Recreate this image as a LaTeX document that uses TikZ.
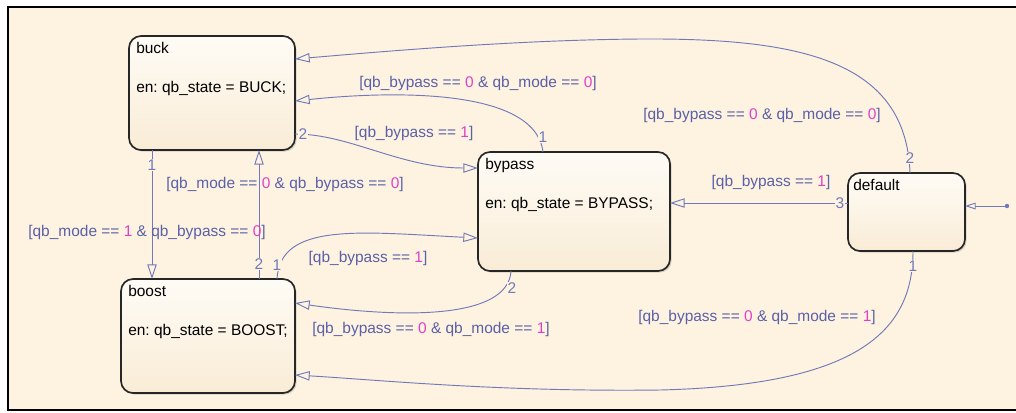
\documentclass[tikz,border=0pt]{standalone}
\usepackage{fontspec}
\setmainfont{Liberation Sans}
\usetikzlibrary{arrows.meta,calc,shadows}
\definecolor{chartbg}{HTML}{FDF3E0}
\definecolor{transcol}{HTML}{7179BA}
\definecolor{guardcol}{HTML}{5B60A8}
\definecolor{numcol}{HTML}{E040C8}
\newcommand{\gv}[1]{\textcolor{numcol}{#1}}
\frenchspacing

\begin{document}
\begin{tikzpicture}[x=0.75pt, y=-0.75pt, font=\fontsize{11.6}{13}\selectfont,
  state/.style={draw=black!85, line width=1.25pt, rounded corners=9pt, inner sep=0pt, outer sep=0pt,
    top color=white!70!chartbg, bottom color=chartbg!80!brown!30!chartbg,
    drop shadow={shadow xshift=1.2pt, shadow yshift=-1.2pt, opacity=0.3}},
  statetext/.style={anchor=base west, inner sep=0pt},
  transition/.style={draw=transcol, line width=0.7pt, -{Triangle[open, length=11pt, width=7pt]}},
  guard/.style={text=guardcol, inner sep=1pt},
  order/.style={text=transcol, fill=chartbg, inner sep=0.4pt}]
  \useasboundingbox[fill=white] (0,0) rectangle (1016,412);
  \fill[chartbg] (8,7) rectangle (1016,410);
  \draw[line width=1.4pt] (1016,7) -- (8,7) -- (8,410) -- (1016,410);

  % states
  \node[state, minimum width=124.5pt, minimum height=85.5pt] (buck) at (212,93) {};
  \node[state, minimum width=130.5pt, minimum height=85.5pt] (boost) at (208,336) {};
  \node[state, minimum width=144pt, minimum height=89.25pt] (bypass) at (574,211.5) {};
  \node[state, minimum width=87.75pt, minimum height=58.5pt] (default) at (906.5,212) {};
  \foreach \s/\e in {buck/BUCK, boost/BOOST, bypass/BYPASS} {
    \node[statetext] (\s name) at ($(\s.north west)+(7,17)$) {\s};
    \node[statetext] (\s entry) at ($(\s.north west)+(7,56)$) {en: qb\_state = \e;};
  }
  \node[statetext] (defaultname) at ($(default.north west)+(5,17)$) {default};

  % transitions
  \draw[transition] ($(default.north)+(3.5,0)$) .. controls (906,60) and (800,38) .. (640,39)
    .. controls (520,40) and (400,50) .. ($(buck.east)+(0,-34)$);
  \draw[transition] ($(bypass.north)+(-31,0)$) .. controls (535,85) and (380,92) .. ($(buck.east)+(0,8)$);
  \draw[transition] ($(buck.east)+(0,41)$) .. controls (350,134) and (400,168) .. ($(bypass.west)+(0,-43.5)$);
  \draw[transition] ($(buck.south)+(-60,0)$) -- ($(boost.north)+(-56,0)$);
  \draw[transition] ($(boost.north)+(51,0)$) -- ($(buck.south)+(47,0)$);
  \draw[transition] ($(boost.north)+(69,0)$) .. controls (280,222) and (360,232) .. ($(bypass.west)+(0,26.5)$);
  \draw[transition] ($(bypass.south)+(-63,0)$) .. controls (508,320) and (400,318) .. ($(boost.east)+(0,-33)$);
  \draw[transition] ($(default.west)+(0,-9)$) -- ($(bypass.east)+(0,-8.5)$);
  \draw[transition] ($(default.south)+(6.5,0)$) .. controls (913,330) and (860,385) .. (660,390)
    .. controls (500,392) and (380,380) .. ($(boost.east)+(0,39)$);
  \fill[transcol] (1007,206) circle (2.2) coordinate (init);
  \draw[transition, -{Triangle[open, length=8pt, width=5pt]}] (init) -- ($(default.east)+(0,-6)$);

  % execution order
  \node[order] (o1) at (910,158) {2};
  \node[order] (o2) at (543,137) {1};
  \node[order] (o3) at (303,134) {2};
  \node[order] (o4) at (152,165) {1};
  \node[order] (o5) at (259,264) {2};
  \node[order] (o6) at (277,265) {1};
  \node[order] (o7) at (512,288) {2};
  \node[order] (o8) at (840,203) {3};
  \node[order] (o9) at (913,266) {1};

  % guards
  \node[guard] (g1) at (762,115) {[qb\_bypass == \gv{0} \& qb\_mode == \gv{0}]};
  \node[guard] (g2) at (478,83) {[qb\_bypass == \gv{0} \& qb\_mode == \gv{0}]};
  \node[guard] (g3) at (414,133) {[qb\_bypass == \gv{1}]};
  \node[guard] (g4) at (147,232) {[qb\_mode == \gv{1} \& qb\_bypass == \gv{0}]};
  \node[guard] (g5) at (285,184) {[qb\_mode == \gv{0} \& qb\_bypass == \gv{0}]};
  \node[guard] (g6) at (368,258) {[qb\_bypass == \gv{1}]};
  \node[guard] (g7) at (431,329) {[qb\_bypass == \gv{0} \& qb\_mode == \gv{1}]};
  \node[guard] (g8) at (771,182) {[qb\_bypass == \gv{1}]};
  \node[guard] (g9) at (757,317) {[qb\_bypass == \gv{0} \& qb\_mode == \gv{1}]};
\end{tikzpicture}
\end{document}
